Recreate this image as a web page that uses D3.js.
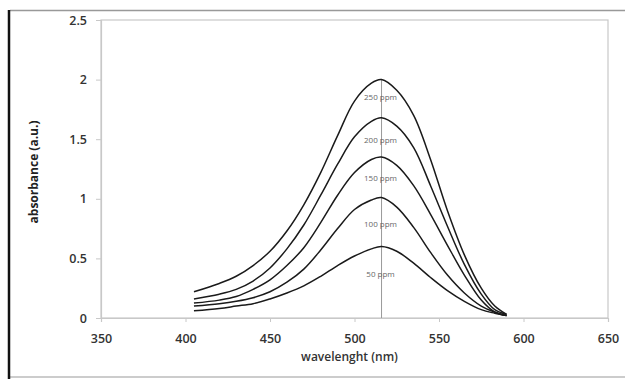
<!DOCTYPE html>
<html>
<head>
<meta charset="utf-8">
<script src="https://cdn.jsdelivr.net/npm/d3@7"></script>
<style>
  body { margin: 0; background: #fff; }
  svg { display: block; }
</style>
</head>
<body>
<svg></svg>
<script>
var width  = 625,
    height = 379,
    margin = {top: 20, right: 17, bottom: 61, left: 101};

// spectra
var wavelengths = [405, 420, 430, 440, 450, 460, 470, 480, 490, 500, 510, 516, 525, 535, 545, 555, 565, 575, 583, 590];
var ppm250 = [0.22, 0.29, 0.35, 0.44, 0.56, 0.73, 0.95, 1.22, 1.53, 1.82, 1.97, 2.00, 1.91, 1.70, 1.33, 0.90, 0.53, 0.25, 0.10, 0.03];
var ppm200 = [0.16, 0.20, 0.24, 0.31, 0.42, 0.58, 0.78, 1.03, 1.29, 1.52, 1.65, 1.68, 1.61, 1.43, 1.11, 0.77, 0.45, 0.20, 0.07, 0.03];
var ppm150 = [0.125, 0.15, 0.18, 0.24, 0.32, 0.44, 0.59, 0.80, 1.03, 1.22, 1.33, 1.35, 1.28, 1.11, 0.87, 0.61, 0.36, 0.15, 0.05, 0.02];
var ppm100 = [0.10, 0.12, 0.14, 0.17, 0.22, 0.30, 0.41, 0.57, 0.75, 0.91, 0.99, 1.01, 0.93, 0.76, 0.55, 0.36, 0.21, 0.10, 0.05, 0.02];
var ppm50  = [0.06, 0.08, 0.10, 0.12, 0.16, 0.21, 0.27, 0.35, 0.44, 0.52, 0.58, 0.60, 0.56, 0.46, 0.34, 0.23, 0.14, 0.07, 0.04, 0.02];

var seriesNames  = ["250 ppm", "200 ppm", "150 ppm", "100 ppm", "50 ppm"];
var seriesValues = [ppm250, ppm200, ppm150, ppm100, ppm50];
var labelAbs     = [1.85, 1.49, 1.17, 0.79, 0.37];
var peakNm       = 516;
var peakAbs      = 2.0;

var xTicks = [350, 400, 450, 500, 550, 600, 650];
var yTicks = [0, 0.5, 1, 1.5, 2, 2.5];

var svg = d3.select('svg')
  .attr("width", width)
  .attr("height", height);

// outer frame of the figure
svg.append("line").attr("x1", 10).attr("x2", 625).attr("y1", 10.5).attr("y2", 10.5)
  .attr("stroke", "#999").attr("stroke-width", 1.5);
svg.append("line").attr("x1", 10).attr("x2", 625).attr("y1", 377).attr("y2", 377)
  .attr("stroke", "#bbb").attr("stroke-width", 1.5);
svg.append("line").attr("x1", 9).attr("x2", 9).attr("y1", 10).attr("y2", 379)
  .attr("stroke", "#111").attr("stroke-width", 2.5);

var x = d3.scaleLinear().domain([350, 650]).range([margin.left, width - margin.right]);
var y = d3.scaleLinear().domain([0, 2.5]).range([height - margin.bottom, margin.top]);

// plot box
svg.append("rect")
  .attr("x", x(350)).attr("y", y(2.5))
  .attr("width", x(650) - x(350)).attr("height", y(0) - y(2.5))
  .attr("fill", "none").attr("stroke", "#c8c8c8").attr("stroke-width", 1.2);

var xAxis = svg.append("g")
  .attr("transform", "translate(0," + y(0) + ")")
  .call(d3.axisBottom(x).tickValues(xTicks).tickSize(4).tickPadding(12));
var yAxis = svg.append("g")
  .attr("transform", "translate(" + x(350) + ",0)")
  .call(d3.axisLeft(y).tickValues(yTicks).tickSize(5).tickPadding(9).tickFormat(d3.format("")));

[xAxis, yAxis].forEach(function(g) {
  g.select(".domain").attr("stroke", "#c8c8c8").attr("stroke-width", 1.2);
  g.selectAll(".tick line").attr("stroke", "#c8c8c8");
  g.selectAll("text")
    .attr("fill", "#333")
    .style("font-family", "'Open Sans', sans-serif")
    .style("font-size", "12.5px")
    .style("font-weight", "600");
});

// peak marker
svg.append("line")
  .attr("x1", x(peakNm)).attr("x2", x(peakNm))
  .attr("y1", y(peakAbs)).attr("y2", y(0))
  .attr("stroke", "#999").attr("stroke-width", 1);

var line = d3.line()
  .x(function(d) { return x(d[0]); })
  .y(function(d) { return y(d[1]); })
  .curve(d3.curveCatmullRom.alpha(0.5));

svg.append("g").selectAll("path")
  .data(seriesValues)
  .enter()
    .append("path")
    .attr("d", function(vals) { return line(wavelengths.map(function(w, i) { return [w, vals[i]]; })); })
    .attr("fill", "none")
    .attr("stroke", "#1a1a1a")
    .attr("stroke-width", 1.5);

svg.append("g").selectAll("text")
  .data(seriesNames)
  .enter()
    .append("text")
    .attr("x", x(peakNm) - 1)
    .attr("y", function(d, i) { return y(labelAbs[i]); })
    .attr("dy", "0.35em")
    .attr("text-anchor", "middle")
    .attr("fill", "#666")
    .style("font-family", "'Open Sans', sans-serif")
    .style("font-size", "8px")
    .text(function(d) { return d; });

svg.append("text")
  .attr("x", (x(350) + x(650)) / 2 - 5)
  .attr("y", 361)
  .attr("text-anchor", "middle")
  .attr("fill", "#333")
  .style("font-family", "'Open Sans', sans-serif")
  .style("font-size", "12px")
  .style("font-weight", "600")
  .text("wavelenght (nm)");

svg.append("text")
  .attr("transform", "translate(38," + 172 + ") rotate(-90)")
  .attr("text-anchor", "middle")
  .attr("fill", "#222")
  .style("font-family", "'Open Sans', sans-serif")
  .style("font-size", "12px")
  .style("font-weight", "700")
  .text("absorbance (a.u.)");
</script>
</body>
</html>
